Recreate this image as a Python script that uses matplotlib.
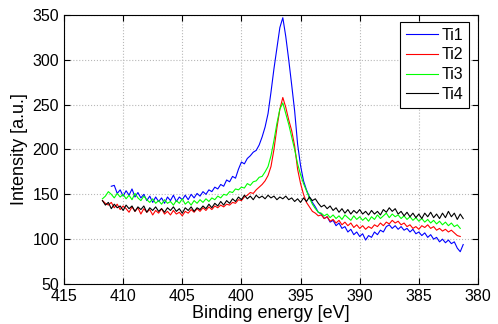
import numpy as np
import matplotlib
matplotlib.use("Agg")
import matplotlib.pyplot as plt

plt.rcParams["font.family"] = ["Liberation Sans", "DejaVu Sans"]

# binding energy grid (eV), 0.25 eV step, high -> low
energy = np.linspace(411.75, 381.25, 123)

nan = np.nan
ti1 = [nan, nan, nan, 159, 160, 151, 155, 148, 154, 149, 156, 147, 152, 146, 150, 143,
       148, 141, 147, 142, 146, 140, 147, 143, 149, 142, 147, 144, 149, 144, 150, 146,
       151, 148, 153, 150, 155, 153, 158, 156, 161, 159, 166, 164, 170, 168, 178, 186,
       184, 190, 193, 197, 199, 205, 214, 225, 240, 264, 290, 313, 336, 347, 326, 300,
       272, 243, 206, 182, 165, 155, 147, 141, 136, 130, 128, 123, 125, 119, 121, 115,
       118, 112, 114, 108, 111, 105, 108, 103, 106, 99, 104, 102, 108, 105, 110, 108,
       114, 116, 112, 115, 111, 114, 110, 112, 108, 111, 106, 108, 104, 107, 102, 105,
       100, 102, 97, 100, 96, 99, 95, 97, 90, 86, 94]
ti2 = [143, 140, 138, 141, 135, 139, 133, 137, 134, 130, 136, 131, 135, 128, 134, 130,
       133, 127, 132, 129, 134, 128, 131, 127, 132, 128, 130, 126, 131, 129, 133, 130,
       134, 131, 135, 132, 136, 133, 137, 135, 138, 136, 139, 138, 141, 140, 144, 143,
       147, 149, 152, 151, 155, 158, 161, 165, 171, 181, 200, 224, 245, 258, 247, 233,
       221, 204, 178, 162, 150, 141, 136, 131, 129, 126, 127, 123, 125, 120, 122, 118,
       121, 116, 119, 115, 118, 113, 116, 112, 115, 111, 114, 112, 116, 114, 118, 115,
       119, 117, 121, 118, 120, 116, 118, 114, 116, 112, 114, 111, 115, 113, 116, 112,
       114, 110, 112, 109, 111, 108, 110, 107, 104, 103, nan]
ti3 = [145, 148, 153, 150, 146, 151, 147, 150, 145, 149, 144, 151, 146, 143, 148, 144,
       141, 145, 140, 143, 139, 144, 140, 142, 138, 143, 140, 145, 139, 142, 138, 143,
       140, 144, 141, 145, 142, 146, 144, 148, 146, 150, 149, 153, 152, 156, 155, 158,
       157, 162, 160, 164, 165, 169, 170, 175, 181, 193, 210, 229, 245, 252, 240, 228,
       214, 200, 184, 172, 162, 154, 146, 139, 134, 130, 129, 126, 128, 124, 127, 123,
       126, 122, 127, 124, 121, 126, 122, 125, 121, 124, 120, 125, 122, 127, 123, 126,
       129, 124, 128, 125, 127, 123, 126, 122, 125, 121, 124, 120, 123, 119, 122, 118,
       121, 117, 120, 116, 119, 115, 118, 114, 116, 112, nan]
ti4 = [143, 138, 141, 134, 139, 135, 137, 132, 138, 134, 137, 131, 136, 133, 137, 130,
       135, 132, 136, 131, 134, 130, 135, 132, 136, 131, 134, 129, 135, 132, 136, 131,
       135, 133, 137, 134, 139, 135, 140, 137, 142, 138, 143, 140, 145, 142, 147, 144,
       149, 145, 148, 144, 149, 146, 148, 145, 149, 146, 148, 144, 147, 145, 148, 144,
       146, 142, 145, 141, 146, 142, 147, 143, 145, 140, 136, 138, 134, 137, 132, 135,
       130, 134, 129, 133, 128, 132, 129, 133, 128, 131, 127, 132, 128, 131, 127, 133,
       130, 135, 131, 134, 128, 131, 126, 130, 125, 129, 124, 128, 123, 129, 125, 130,
       124, 128, 123, 129, 124, 131, 125, 129, 122, 128, 123]

series = [("Ti1", ti1, "#0000ff"), ("Ti2", ti2, "#ff0000"),
          ("Ti3", ti3, "#00ff00"), ("Ti4", ti4, "#000000")]

fig = plt.figure(figsize=(4.98, 3.24), dpi=100)
ax = fig.add_axes([0.1285, 0.1235, 0.8313, 0.8302])

for name, vals, col in series:
    ax.plot(energy, vals, color=col, lw=0.8, label=name)

ax.set_xlim(415, 380)
ax.set_ylim(50, 350)
ax.set_xticks(np.arange(415, 379, -5))
ax.set_yticks(np.arange(50, 351, 50))
ax.tick_params(direction="in", top=True, right=True, labelsize=11.5, length=4, width=0.8)
ax.grid(True, linestyle=":", color="#b8b8b8", linewidth=0.8)
for s in ax.spines.values():
    s.set_linewidth(0.8)

ax.set_xlabel("Binding energy [eV]", fontsize=13, labelpad=1)
ax.set_ylabel("Intensity [a.u.]", fontsize=13, labelpad=3)

leg = ax.legend(loc="upper right", bbox_to_anchor=(0.978, 0.974), borderaxespad=0,
                fontsize=11.5, fancybox=False, edgecolor="black", framealpha=1,
                handlelength=2.0, handletextpad=0.25, labelspacing=0.3, borderpad=0.35)
leg.get_frame().set_linewidth(0.8)

fig.savefig("out.png", dpi=100)
